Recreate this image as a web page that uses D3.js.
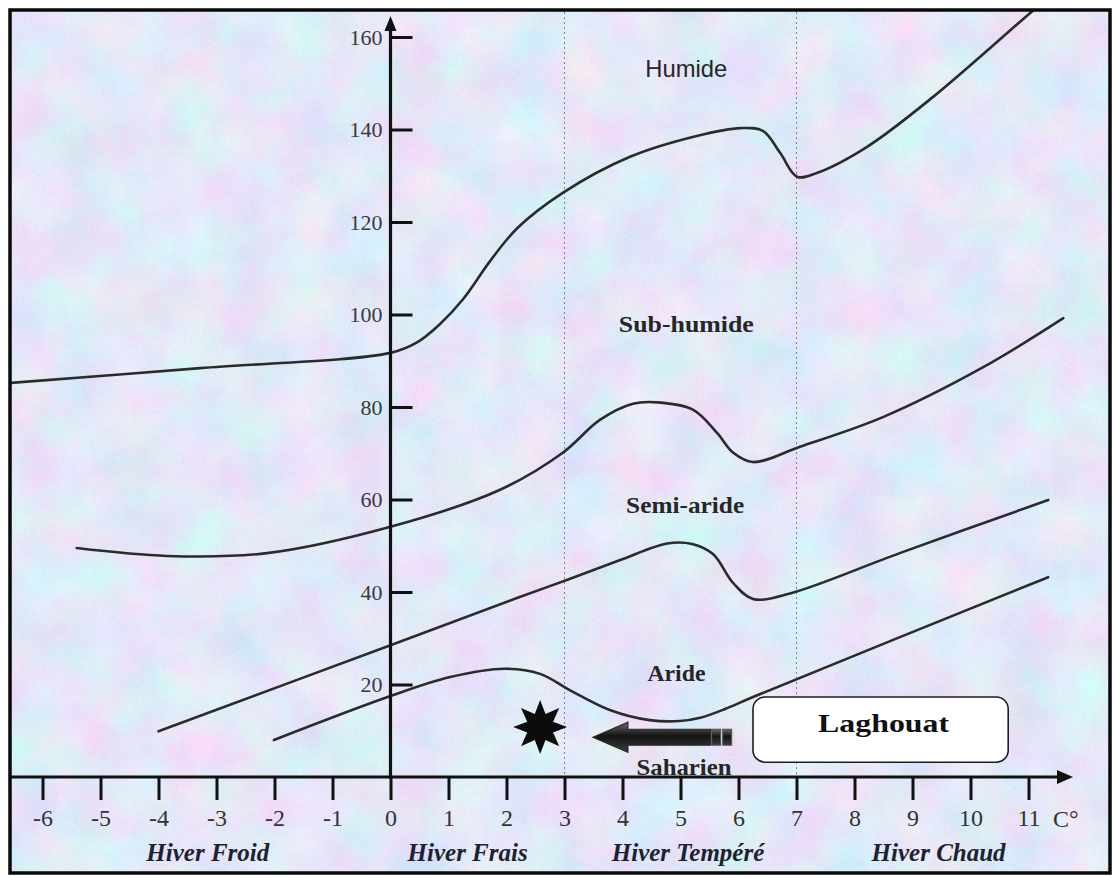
<!DOCTYPE html>
<html>
<head>
<meta charset="utf-8">
<script src="https://cdn.jsdelivr.net/npm/d3@7"></script>
<style>
  html, body { margin: 0; padding: 0; background: #ffffff; }
  svg { display: block; }
</style>
</head>
<body>
<svg id="chart" width="1114" height="878"></svg>
<script>
// ---------- DATA ----------
// Boundary curves of the Emberger climagram: [m (°C), Q2]
const humideBound = [
  [-6.56, 85.2], [-3.28, 88.4], [0, 91.7], [0.45, 93.9], [0.85, 97.9], [1.25, 103.3],
  [1.72, 111.6], [2.18, 118.6], [2.97, 126.3], [4.13, 134.1], [5.28, 138.6],
  [6.03, 140.3], [6.42, 139.7], [6.72, 134.9], [7.01, 129.8], [7.35, 130.6],
  [8.21, 136.2], [9.35, 147.0], [11.03, 165.2], [11.3, 168.0]
];
const subHumideBound = [
  [-5.41, 49.5], [-3.85, 47.8], [-2.13, 48.4], [0, 54.1], [1.89, 62.1], [2.97, 70.1],
  [3.61, 77.2], [4.18, 80.7], [4.6, 81.0], [5.22, 79.4], [5.63, 74.4], [5.91, 70.1],
  [6.25, 68.1], [7.06, 71.4], [8.49, 77.8], [10.22, 88.6], [11.6, 99.2]
];
const semiArideBound = [
  [-4.0, 9.9], [0, 28.5], [2.18, 38.7], [3.04, 42.6], [3.96, 46.9], [4.77, 50.5],
  [5.2, 50.4], [5.56, 48.2], [5.91, 41.9], [6.25, 38.5], [6.89, 39.7], [8.78, 48.4],
  [11.34, 59.9]
];
const arideBound = [
  [-2.01, 8.0], [0, 17.5], [1.03, 21.6], [1.97, 23.4], [2.58, 22.3], [3.09, 18.8],
  [3.78, 14.5], [4.47, 12.3], [4.99, 12.1], [5.34, 12.8], [5.77, 14.7], [6.25, 17.3],
  [11.34, 43.2]
];
const curves = [humideBound, subHumideBound, semiArideBound, arideBound];

const xTicks = [-6, -5, -4, -3, -2, -1, 0, 1, 2, 3, 4, 5, 6, 7, 8, 9, 10, 11];
const yTicks = [20, 40, 60, 80, 100, 120, 140, 160];
const winterBounds = [3, 7];

const zoneLabels = [
  { text: "Humide",     x: 5.1,  q: 151.4, font: "'Liberation Sans', Arial, sans-serif", weight: "normal", len: 82 },
  { text: "Sub-humide", x: 5.1,  q: 96.2,  font: "'Liberation Serif', 'Times New Roman', serif", weight: "bold", len: 135 },
  { text: "Semi-aride", x: 5.08, q: 57.1,  font: "'Liberation Serif', 'Times New Roman', serif", weight: "bold", len: 118 },
  { text: "Aride",      x: 4.93, q: 20.8,  font: "'Liberation Serif', 'Times New Roman', serif", weight: "bold", len: 58 },
  { text: "Saharien",   x: 5.06, q: 0.4,   font: "'Liberation Serif', 'Times New Roman', serif", weight: "bold", len: 95 }
];
const winterLabels = [
  { text: "Hiver Froid",   x: -3.15 },
  { text: "Hiver Frais",   x: 1.33 },
  { text: "Hiver Tempéré", x: 5.13 },
  { text: "Hiver Chaud",   x: 9.45 }
];
const station = { name: "Laghouat", starX: 2.58, starQ: 10.8,
  arrowTip: 3.49, arrowEnd: 5.9, arrowQ: 8.6,
  boxX0: 6.25, boxX1: 10.65, boxQ0: 17.3, boxQ1: 3.2 };

// ---------- SETUP ----------
const W = 1114, H = 878;
const svg = d3.select("#chart");
const x = d3.scaleLinear().domain([-6, 11]).range([42.5, 1028.5]);
const y = d3.scaleLinear().domain([0, 160]).range([777, 37]);
const serif = "'Liberation Serif', 'Times New Roman', serif";
const ink = "#262626";

const defs = svg.append("defs");
// mottled paper texture
const f = defs.append("filter").attr("id", "paper")
  .attr("x", 0).attr("y", 0).attr("width", "100%").attr("height", "100%");
f.append("feTurbulence").attr("type", "fractalNoise").attr("baseFrequency", "0.018")
  .attr("numOctaves", 4).attr("seed", 7).attr("result", "n1");
f.append("feColorMatrix").attr("in", "n1").attr("type", "matrix")
  .attr("values", "0.5 0 0 0 0.52  -0.22 0.32 0 0 0.755  0 0 0.16 0 0.85  0 0 0 0 1")
  .attr("result", "c1");
f.append("feTurbulence").attr("type", "fractalNoise").attr("baseFrequency", "0.75")
  .attr("numOctaves", 2).attr("seed", 3).attr("result", "n2");
f.append("feColorMatrix").attr("in", "n2").attr("type", "matrix")
  .attr("values", "0 0 0 0 0.9  0 0 0 0 0.93  0 0 0 0 1  1.0 0 0 0 -0.42")
  .attr("result", "c2");
f.append("feComposite").attr("in", "c2").attr("in2", "c1").attr("operator", "over").attr("result", "c3");
f.append("feTurbulence").attr("type", "fractalNoise").attr("baseFrequency", "0.9")
  .attr("numOctaves", 1).attr("seed", 11).attr("result", "n3");
f.append("feColorMatrix").attr("in", "n3").attr("type", "matrix")
  .attr("values", "0 0 0 0 0.55  0 0 0 0 0.62  0 0 0 0 0.85  0 1.2 0 0 -0.6")
  .attr("result", "c4");
f.append("feComposite").attr("in", "c4").attr("in2", "c3").attr("operator", "over");

defs.append("clipPath").attr("id", "frameClip")
  .append("rect").attr("x", 11).attr("y", 11).attr("width", 1098).attr("height", 860);

const grad = defs.append("linearGradient").attr("id", "arrowGrad")
  .attr("x1", 0).attr("y1", 0).attr("x2", 0).attr("y2", 1);
grad.append("stop").attr("offset", "0%").attr("stop-color", "#6a6a6a");
grad.append("stop").attr("offset", "45%").attr("stop-color", "#141414");
grad.append("stop").attr("offset", "100%").attr("stop-color", "#3c3c3c");

// background + frame
svg.append("rect").attr("width", W).attr("height", H).attr("fill", "#fff");
svg.append("rect").attr("x", 10).attr("y", 10).attr("width", 1100).attr("height", 863)
  .attr("fill", "#c9d6f0").attr("filter", "url(#paper)");

const plot = svg.append("g").attr("clip-path", "url(#frameClip)");

// winter separators
plot.selectAll("line.sep").data(winterBounds).join("line")
  .attr("class", "sep")
  .attr("x1", d => x(d)).attr("x2", d => x(d))
  .attr("y1", 12).attr("y2", y(0))
  .attr("stroke", "#5a6072").attr("stroke-width", 1).attr("stroke-dasharray", "2,3")
  .attr("opacity", 0.75);

// curves
const line = d3.line().x(d => x(d[0])).y(d => y(d[1])).curve(d3.curveCatmullRom.alpha(0.5));
plot.selectAll("path.bound").data(curves).join("path")
  .attr("class", "bound")
  .attr("d", line)
  .attr("fill", "none").attr("stroke", "#2b2b2b").attr("stroke-width", 2.6)
  .attr("stroke-linejoin", "round").attr("stroke-linecap", "round");

// axes
const xAxis = d3.axisBottom(x).tickValues(xTicks).tickSize(23).tickPadding(9)
  .tickFormat(d => String(d));
const gx = plot.append("g").attr("transform", `translate(0,${y(0)})`).call(xAxis);
gx.select(".domain").remove();
gx.selectAll(".tick line").attr("stroke", "#111").attr("stroke-width", 3);
gx.selectAll(".tick text").attr("font-family", serif).attr("font-size", 24)
  .attr("fill", "#333");

const yAxis = d3.axisLeft(y).tickValues(yTicks).tickSizeInner(-22).tickSizeOuter(0)
  .tickPadding(8).tickFormat(d => String(d));
const gy = plot.append("g").attr("transform", `translate(${x(0)},0)`).call(yAxis);
gy.select(".domain").remove();
gy.selectAll(".tick line").attr("stroke", "#111").attr("stroke-width", 3);
gy.selectAll(".tick text").attr("font-family", serif).attr("font-size", 22)
  .attr("fill", "#3a3a3a");

// axis lines with arrows
plot.append("line").attr("x1", 10).attr("x2", 1060).attr("y1", y(0)).attr("y2", y(0))
  .attr("stroke", "#111").attr("stroke-width", 3.2);
plot.append("path")
  .attr("d", `M1073,${y(0)} L1057,${y(0) - 7} L1057,${y(0) + 7} Z`).attr("fill", "#111");
plot.append("line").attr("x1", x(0)).attr("x2", x(0)).attr("y1", y(0) + 2).attr("y2", 28)
  .attr("stroke", "#111").attr("stroke-width", 3.2);
plot.append("path")
  .attr("d", `M${x(0)},16 L${x(0) - 6},31 L${x(0) + 6},31 Z`).attr("fill", "#111");

// unit
plot.append("text").attr("x", 1053).attr("y", 827).text("C°")
  .attr("font-family", serif).attr("font-size", 24).attr("fill", "#333");

// zone labels
plot.selectAll("text.zone").data(zoneLabels).join("text")
  .attr("class", "zone")
  .attr("x", d => x(d.x)).attr("y", d => y(d.q))
  .attr("text-anchor", "middle")
  .attr("font-family", d => d.font).attr("font-weight", d => d.weight)
  .attr("font-size", 24)
  .attr("textLength", d => d.len).attr("lengthAdjust", "spacingAndGlyphs")
  .attr("fill", ink)
  .text(d => d.text);

// winter labels
plot.selectAll("text.winter").data(winterLabels).join("text")
  .attr("class", "winter")
  .attr("x", d => x(d.x)).attr("y", 861)
  .attr("text-anchor", "middle")
  .attr("font-family", serif).attr("font-weight", "bold").attr("font-style", "italic")
  .attr("font-size", 25).attr("fill", "#1e2230")
  .text(d => d.text);

// station star
const starPts = d3.range(16).map(i => {
  const a = i * Math.PI / 8;
  const r = i % 2 === 0 ? 27 : 14;
  return [a, r];
});
plot.append("path")
  .attr("d", d3.lineRadial().angle(d => d[0]).radius(d => d[1]).curve(d3.curveLinearClosed)(starPts))
  .attr("transform", `translate(${x(station.starX)},${y(station.starQ)})`)
  .attr("fill", "#0c0c0c");

// arrow
const ay = y(station.arrowQ);
const tipX = x(station.arrowTip), endX = x(station.arrowEnd);
const headBack = tipX + 35, shaftEnd = endX - 22;
plot.append("path")
  .attr("d", `M${tipX},${ay} L${headBack},${ay - 15} L${headBack},${ay - 8} L${shaftEnd},${ay - 8}
              L${shaftEnd},${ay + 8} L${headBack},${ay + 8} L${headBack},${ay + 15} Z`)
  .attr("fill", "url(#arrowGrad)").attr("stroke", "#2a2a2a").attr("stroke-width", 1.2);
[0, 1].forEach(i => {
  plot.append("rect").attr("x", shaftEnd + 1 + i * 11).attr("y", ay - 8)
    .attr("width", 9).attr("height", 16)
    .attr("fill", "url(#arrowGrad)").attr("stroke", "#555").attr("stroke-width", 1);
});

// station box
const bx0 = x(station.boxX0), bx1 = x(station.boxX1);
const by0 = y(station.boxQ0), by1 = y(station.boxQ1);
plot.append("rect").attr("x", bx0).attr("y", by0)
  .attr("width", bx1 - bx0).attr("height", by1 - by0).attr("rx", 12)
  .attr("fill", "#ffffff").attr("stroke", "#1e1e1e").attr("stroke-width", 1.6);
plot.append("text").attr("x", (bx0 + bx1) / 2 + 3).attr("y", 732)
  .attr("text-anchor", "middle").attr("font-family", serif).attr("font-weight", "bold")
  .attr("font-size", 26).attr("textLength", 131).attr("lengthAdjust", "spacingAndGlyphs")
  .attr("fill", "#111").text(station.name);

// frame border
svg.append("rect").attr("x", 10).attr("y", 10).attr("width", 1100).attr("height", 863)
  .attr("fill", "none").attr("stroke", "#0a0a0a").attr("stroke-width", 3.5);
</script>
</body>
</html>
